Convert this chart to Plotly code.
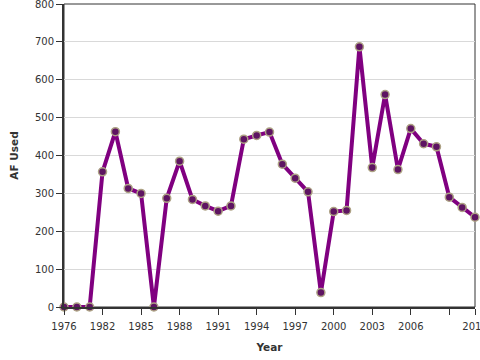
import plotly.graph_objects as go

years = ["1976", "1978", "1980", "1982", "1983", "1984", "1985", "1986", "1987", "1988",
         "1989", "1990", "1991", "1992", "1993", "1994", "1995", "1996", "1997", "1998",
         "1999", "2000", "2001", "2002", "2003", "2004", "2005", "2006", "2007", "2008",
         "2009", "2010", "2011"]
af_used = [0, 0, 0, 357, 463, 313, 300, 0, 287, 385,
           284, 267, 253, 267, 443, 453, 462, 377, 340, 304,
           38, 252, 255, 687, 368, 561, 363, 471, 431, 423,
           290, 263, 237]
x_tick_vals = ["1976", "1982", "1985", "1988", "1991", "1994", "1997", "2000", "2003", "2006", "2009", "2011"]
x_tick_text = ["1976", "1982", "1985", "1988", "1991", "1994", "1997", "2000", "2003", "2006", "", "2011"]
y_tick_vals = [0, 100, 200, 300, 400, 500, 600, 700, 800]

font_family = "DejaVu Sans, Verdana, sans-serif"

fig = go.Figure()
fig.add_trace(go.Scatter(
    x=years, y=af_used, mode="lines+markers",
    line=dict(color="#800080", width=4),
    marker=dict(size=8, color="#5e1462", line=dict(color="#ada284", width=1.5)),
    cliponaxis=False, showlegend=False,
))

fig.update_layout(
    width=480, height=360,
    margin=dict(l=64, r=5, t=4, b=53),
    paper_bgcolor="white", plot_bgcolor="white",
    font=dict(family=font_family, size=10, color="#333333"),
    xaxis=dict(
        type="category", range=[0, len(years) - 1],
        tickmode="array", tickvals=x_tick_vals, ticktext=x_tick_text,
        ticks="outside", ticklen=6, tickwidth=1, tickcolor="#333333",
        ticklabelstandoff=3, ticklabeloverflow="allow",
        showgrid=False, zeroline=False,
        showline=True, linecolor="#333333", linewidth=2,
        tickfont=dict(size=10, color="#333333"),
        title=dict(text="<b>Year</b>", font=dict(size=10.5, color="#333333"), standoff=13),
        automargin=False,
    ),
    yaxis=dict(
        range=[0, 800.01], tickmode="array", tickvals=y_tick_vals,
        ticks="outside", ticklen=6, tickwidth=1, tickcolor="#333333",
        ticklabeloverflow="allow",
        showgrid=True, gridcolor="#d9d9d9", gridwidth=1, zeroline=False,
        showline=True, linecolor="#333333", linewidth=2,
        tickfont=dict(size=10, color="#333333"),
        title=dict(text="<b>AF Used</b>", font=dict(size=10.5, color="#333333"), standoff=14),
        automargin=False,
    ),
    shapes=[dict(type="rect", xref="paper", yref="paper", x0=0, y0=0, x1=1, y1=1,
                 line=dict(color="#333333", width=1), layer="below")],
)

fig.write_html("out.html", config={"displayModeBar": False},
               post_script="document.body.style.margin='0px';document.body.style.overflow='hidden';")
